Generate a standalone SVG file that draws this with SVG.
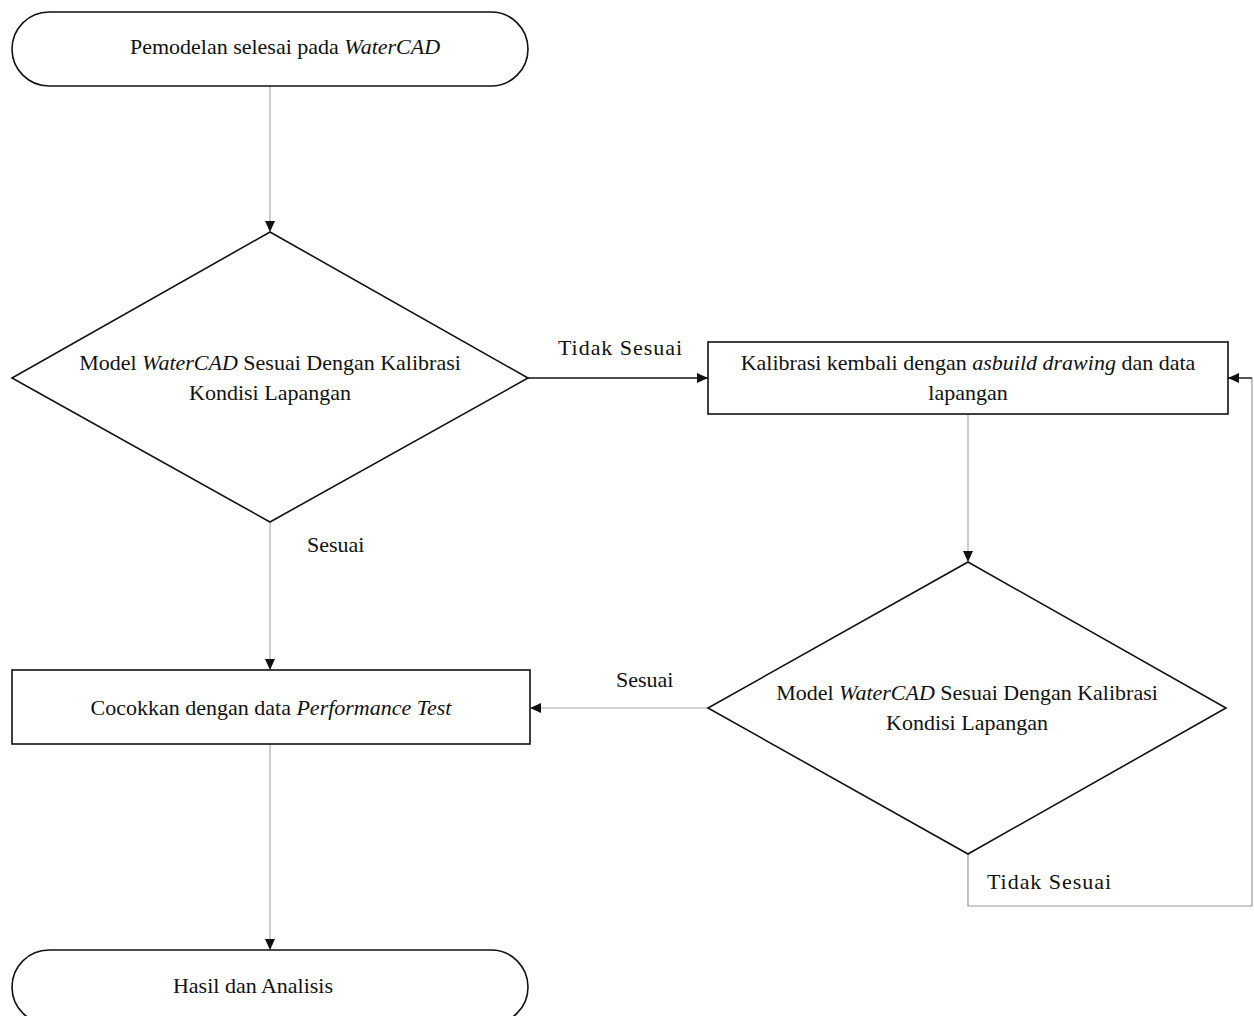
<svg xmlns="http://www.w3.org/2000/svg" width="1254" height="1016" viewBox="0 0 1254 1016">
<style>
.shape{fill:#fff;stroke:#111;stroke-width:1.6}
.t{font-family:"Liberation Serif","Times New Roman",serif;font-size:22px;fill:#111;text-anchor:middle}
.tl{font-family:"Liberation Serif","Times New Roman",serif;font-size:22px;fill:#111}
.c{fill:none;stroke:#aaa;stroke-width:1.2}
.cd{fill:none;stroke:#111;stroke-width:1.4}
</style>
<defs>
<marker id="ah" markerWidth="12" markerHeight="12" refX="11" refY="6" orient="auto" markerUnits="userSpaceOnUse">
<path d="M0,1 L11,6 L0,11 Z" fill="#111"/>
</marker>
</defs>
<rect width="1254" height="1016" fill="#fff"/>
<g id="connectors">
<line class="c" x1="270" y1="86" x2="270" y2="232" marker-end="url(#ah)"/>
<line class="cd" x1="528" y1="378" x2="708" y2="378" marker-end="url(#ah)"/>
<line class="c" x1="270" y1="522" x2="270" y2="670" marker-end="url(#ah)"/>
<line class="c" x1="968" y1="414" x2="968" y2="562" marker-end="url(#ah)"/>
<line class="c" x1="708" y1="708" x2="530" y2="708" marker-end="url(#ah)"/>
<polyline class="c" points="968,854 968,906 1252,906 1252,378" style="stroke:#999"/>
<line class="cd" x1="1252" y1="378" x2="1228" y2="378" marker-end="url(#ah)"/>
<line class="c" x1="270" y1="744" x2="270" y2="950" marker-end="url(#ah)"/>
<text class="tl" x="558" y="355" textLength="124">Tidak Sesuai</text>
<text class="tl" x="307" y="552">Sesuai</text>
<text class="tl" x="616" y="687">Sesuai</text>
<text class="tl" x="987" y="889" textLength="124">Tidak Sesuai</text>
</g>
<g id="start">
<rect class="shape" x="12" y="12" width="516" height="74" rx="37" ry="37"/>
<text class="t" x="285" y="54">Pemodelan selesai pada <tspan font-style="italic">WaterCAD</tspan></text>
</g>
<g id="decision1">
<polygon class="shape" points="270,232 528,378 270,522 12,378"/>
<text class="t" x="270" y="370">Model <tspan font-style="italic">WaterCAD</tspan> Sesuai Dengan Kalibrasi</text>
<text class="t" x="270" y="400">Kondisi Lapangan</text>
</g>
<g id="kalibrasi">
<rect class="shape" x="708" y="342" width="520" height="72"/>
<text class="t" x="968" y="370">Kalibrasi kembali dengan <tspan font-style="italic">asbuild drawing</tspan> dan data</text>
<text class="t" x="968" y="400">lapangan</text>
</g>
<g id="decision2">
<polygon class="shape" points="968,562 1226,708 968,854 708,708"/>
<text class="t" x="967" y="700">Model <tspan font-style="italic">WaterCAD</tspan> Sesuai Dengan Kalibrasi</text>
<text class="t" x="967" y="730">Kondisi Lapangan</text>
</g>
<g id="cocokkan">
<rect class="shape" x="12" y="670" width="518" height="74"/>
<text class="t" x="271" y="715">Cocokkan dengan data <tspan font-style="italic">Performance Test</tspan></text>
</g>
<g id="end">
<rect class="shape" x="12" y="950" width="516" height="74" rx="37" ry="37"/>
<text class="t" x="253" y="993">Hasil dan Analisis</text>
</g>
</svg>
